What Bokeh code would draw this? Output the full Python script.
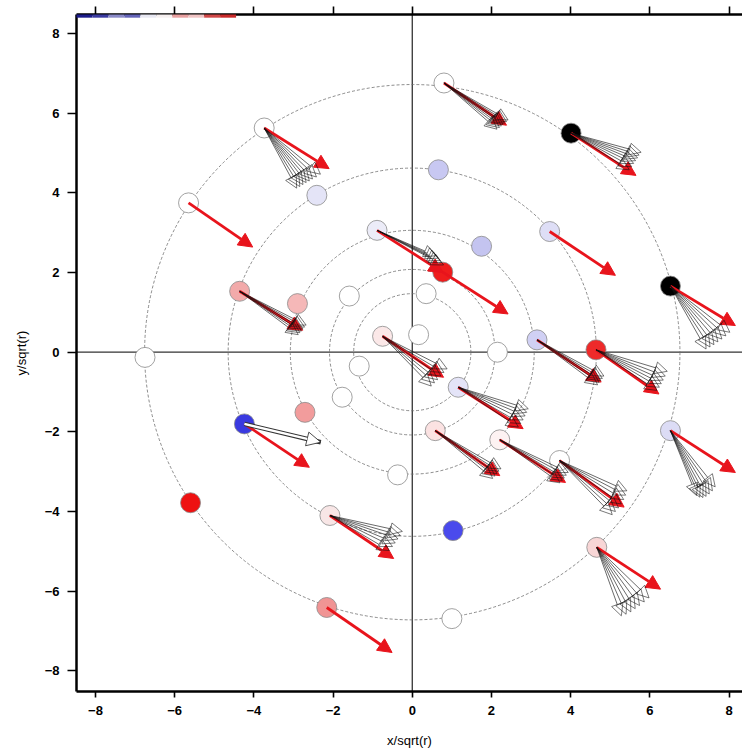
from bokeh.plotting import figure
from bokeh.models import (Range1d, LinearAxis, FixedTicker, Span, Arrow, NormalHead,
                          ColumnDataSource, CustomJSTickFormatter)
from bokeh.embed import file_html
from bokeh.resources import INLINE

# ---------------- data ----------------
tick_vals = [-8, -6, -4, -2, 0, 2, 4, 6, 8]
ring_r = [1.48, 2.09, 3.08, 4.65, 6.76]

pt_x = [0.80, 4.01, -3.74, 0.66, -2.41, -5.65, 3.47, 1.75, -0.89, 0.77,
        6.52, -4.36, -2.90, -1.59, 0.35, 0.16, -0.75, 3.15, 4.64, 2.15,
        -6.75, -1.34, 1.16, -1.77, -2.71, -4.24, 0.58, 2.21, 6.52, 3.72,
        -0.37, -5.60, -2.08, 1.03, 4.66, -2.16, 1.00]
pt_y = [6.76, 5.50, 5.63, 4.58, 3.94, 3.75, 3.03, 2.66, 3.06, 2.01,
        1.66, 1.53, 1.22, 1.41, 1.47, 0.44, 0.40, 0.31, 0.06, 0.00,
        -0.13, -0.35, -0.88, -1.13, -1.51, -1.80, -1.97, -2.20, -1.97, -2.72,
        -3.08, -3.78, -4.10, -4.48, -4.90, -6.41, -6.69]
pt_color = ["#ffffff", "#000000", "#ffffff", "#c8c8f2", "#e4e4f7", "#ffffff", "#dedef6", "#c4c4f0", "#ececf8", "#ee1c1c",
            "#000000", "#f2aaaa", "#f5b8b8", "#ffffff", "#ffffff", "#ffffff", "#fbe8e8", "#d0d0f4", "#ee2a2a", "#ffffff",
            "#ffffff", "#ffffff", "#e4e4f8", "#ffffff", "#f29c9c", "#3a3ae0", "#fbe2e2", "#fdf2f2", "#dcdcf5", "#ffffff",
            "#ffffff", "#ee1111", "#f8e6e6", "#4a4aec", "#f8d6d6", "#f09494", "#ffffff"]

# red (mean) arrows: start point index, end
red_from = [2, 5, 11, 0, 1, 6, 8, 9, 10, 16, 17, 18, 22, 26, 27, 29, 28, 34, 32, 35, 25]
red_end_x = [-2.10, -4.03, -2.77, 2.38, 5.65, 5.13, 0.78, 2.42, 8.16, 0.79, 4.77, 6.23, 2.80, 2.21, 3.87, 5.35, 8.16, 6.27, -0.47, -0.51, -2.60]
red_end_y = [4.61, 2.64, 0.55, 5.70, 4.44, 1.93, 2.00, 0.96, 0.67, -0.63, -0.75, -1.05, -1.92, -3.10, -3.27, -3.89, -3.02, -5.95, -5.18, -7.54, -2.89]

# black replicate arrows (hollow heads): start point index, end
bundle_from = ([2] * 8 + [0] * 7 + [1] * 7 + [8] * 5 + [10] * 7 + [11] * 6 + [16] * 6 + [17] * 5 +
               [18] * 6 + [22] * 6 + [26] * 5 + [27] * 5 + [29] * 7 + [28] * 7 + [34] * 7 + [32] * 6)
bundle_end_x = [-2.92, -2.84, -2.76, -2.68, -2.60, -2.52, -2.42, -2.32,
                2.14, 2.20, 2.25, 2.29, 2.33, 2.38, 2.42,
                5.48, 5.54, 5.59, 5.64, 5.69, 5.73, 5.78,
                0.60, 0.65, 0.70, 0.74, 0.79,
                7.42, 7.52, 7.62, 7.72, 7.82, 7.92, 8.02,
                -2.88, -2.84, -2.80, -2.76, -2.72, -2.68,
                0.48, 0.56, 0.64, 0.72, 0.80, 0.88,
                4.68, 4.72, 4.76, 4.80, 4.84,
                6.18, 6.24, 6.29, 6.34, 6.39, 6.44,
                2.68, 2.74, 2.80, 2.85, 2.89, 2.93,
                2.03, 2.09, 2.14, 2.19, 2.24,
                3.73, 3.79, 3.84, 3.89, 3.94,
                5.05, 5.13, 5.21, 5.28, 5.34, 5.39, 5.42,
                7.18, 7.26, 7.34, 7.42, 7.50, 7.58, 7.65,
                5.28, 5.40, 5.52, 5.63, 5.74, 5.86, 5.98,
                -0.58, -0.50, -0.43, -0.36, -0.30, -0.25]
bundle_end_y = [4.12, 4.16, 4.21, 4.26, 4.30, 4.35, 4.40, 4.47,
                5.60, 5.64, 5.68, 5.72, 5.75, 5.79, 5.83,
                4.58, 4.66, 4.74, 4.81, 4.88, 4.95, 5.02,
                2.42, 2.36, 2.30, 2.25, 2.19,
                0.08, 0.13, 0.19, 0.26, 0.33, 0.41, 0.50,
                0.44, 0.49, 0.53, 0.58, 0.63, 0.68,
                -0.85, -0.77, -0.69, -0.60, -0.51, -0.42,
                -0.82, -0.76, -0.71, -0.66, -0.60,
                -0.96, -0.88, -0.79, -0.70, -0.60, -0.48,
                -1.88, -1.79, -1.70, -1.60, -1.51, -1.42,
                -3.17, -3.11, -3.05, -2.99, -2.93,
                -3.28, -3.22, -3.16, -3.09, -3.02,
                -4.08, -4.00, -3.91, -3.81, -3.70, -3.59, -3.48,
                -3.60, -3.64, -3.65, -3.62, -3.56, -3.48, -3.38,
                -6.62, -6.58, -6.52, -6.44, -6.36, -6.27, -6.17,
                -4.98, -4.88, -4.79, -4.69, -4.60, -4.50]

# open (white) arrow
white_from = [25]
white_end_x = [-2.31]
white_end_y = [-2.26]

strip_colors = ["#1c1c8a", "#3a3aa0", "#8a8ac8", "#6464b8", "#e8e8f2",
                "#f6f0f0", "#e8a0a0", "#f0c4c4", "#d04848", "#c82a2a"]

RED = "#e8141c"

# ---------------- figure ----------------
p = figure(width=742, height=751,
           x_range=Range1d(-8.48, 8.34), y_range=Range1d(-8.52, 8.48),
           output_backend="svg", toolbar_location=None,
           min_border_left=76, min_border_right=0, min_border_top=14, min_border_bottom=60)
p.grid.visible = False
p.outline_line_color = None
p.background_fill_color = "white"

def style_axis(ax, tick_out, standoff):
    ax.ticker = FixedTicker(ticks=tick_vals, minor_ticks=[])
    ax.axis_line_width = 2.5
    ax.axis_line_color = "black"
    ax.major_tick_out = tick_out
    ax.major_tick_in = 0
    ax.minor_tick_out = 0
    ax.minor_tick_in = 0
    ax.major_tick_line_width = 1.6
    ax.major_tick_line_color = "black"
    ax.major_label_standoff = standoff
    ax.major_label_text_font = "Liberation Sans"
    ax.major_label_text_font_style = "bold"
    ax.major_label_text_font_size = "13px"
    ax.major_label_text_color = "black"
    ax.axis_label_text_font = "Liberation Sans"
    ax.axis_label_text_font_style = "normal"
    ax.axis_label_text_font_size = "13px"
    ax.axis_label_text_color = "black"

xa = p.xaxis[0]
style_axis(xa, 6, 8)
xa.axis_label = "x/sqrt(r)"
xa.axis_label_standoff = 15

ya = p.yaxis[0]
style_axis(ya, 9, 8)
ya.axis_label = "y/sqrt(r)"
ya.axis_label_standoff = 13

top = LinearAxis()
style_axis(top, 8, 0)
top.formatter = CustomJSTickFormatter(code="return ''")
p.add_layout(top, "above")

# reference cross
p.add_layout(Span(location=0, dimension="width", line_color="#333333", line_width=1.3, level="underlay"))
p.add_layout(Span(location=0, dimension="height", line_color="#333333", line_width=1.3, level="underlay"))

# rings
p.circle(x=[0] * len(ring_r), y=[0] * len(ring_r), radius=ring_r,
         fill_color=None, line_color="#707070", line_width=0.8, line_dash="3 2")

# points
p.scatter(x=pt_x, y=pt_y, size=20, fill_color=pt_color, line_color="#8a8a8a", line_width=0.8)

# red arrows
red_src = ColumnDataSource(dict(
    x0=[pt_x[i] for i in red_from], y0=[pt_y[i] for i in red_from],
    x1=red_end_x, y1=red_end_y))
p.add_layout(Arrow(end=NormalHead(size=14, fill_color=RED, line_color=RED, line_width=1),
                   x_start="x0", y_start="y0", x_end="x1", y_end="y1", source=red_src,
                   line_color=RED, line_width=2.8))

# black replicate arrows
b_src = ColumnDataSource(dict(
    x0=[pt_x[i] for i in bundle_from], y0=[pt_y[i] for i in bundle_from],
    x1=bundle_end_x, y1=bundle_end_y))
p.add_layout(Arrow(end=NormalHead(size=12, fill_color=None, line_color="#111111", line_width=0.7, line_alpha=0.8),
                   x_start="x0", y_start="y0", x_end="x1", y_end="y1", source=b_src,
                   line_color="#111111", line_width=0.9, line_alpha=0.7))

# open white arrow
w_src = ColumnDataSource(dict(
    x0=[pt_x[i] for i in white_from], y0=[pt_y[i] for i in white_from],
    x1=white_end_x, y1=white_end_y))
p.add_layout(Arrow(end=None, x_start="x0", y_start="y0", x_end="x1", y_end="y1", source=w_src,
                   line_color="#333333", line_width=4.5))
p.add_layout(Arrow(end=NormalHead(size=14, fill_color="white", line_color="#222222", line_width=0.8),
                   x_start="x0", y_start="y0", x_end="x1", y_end="y1", source=w_src,
                   line_color="white", line_width=2.4))

# colour strip along top-left edge
n = len(strip_colors)
x_lo, x_hi = -8.48, -4.45
w = (x_hi - x_lo) / n
p.quad(left=[x_lo + k * w for k in range(n)], right=[x_lo + (k + 1) * w for k in range(n)],
       bottom=[8.40] * n, top=[8.48] * n, fill_color=strip_colors, line_color=None, level="overlay")

open("out.html", "w").write(file_html(p, INLINE))
